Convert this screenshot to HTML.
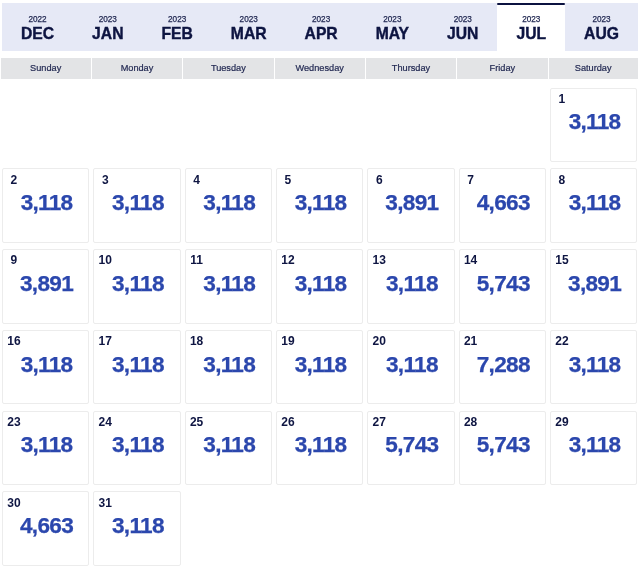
<!DOCTYPE html><html><head><meta charset="utf-8"><title>Calendar</title><style>
*{margin:0;padding:0;box-sizing:border-box}
html,body{width:640px;height:566px;overflow:hidden;background:#fff}
body{position:relative;font-family:"Liberation Sans",Arial,Helvetica,sans-serif;color:#0e1542}
.tabs{position:absolute;left:2px;top:3px;width:636px;height:48px;background:#e6e9f6;display:flex}
.tab{position:relative;flex:1 1 auto;height:48px;text-align:center;padding-top:22.9px}
.tab.on{background:#fff}
.tab.on:before{content:"";position:absolute;left:0;right:0;top:0;height:2px;background:#0b1240;border-radius:1px}
.yr{position:absolute;left:0;right:0;top:12.5px;font-size:8.2px;line-height:1;color:#1f2650;-webkit-text-stroke:0.25px #1f2650}
.mo{display:block;font-size:15.7px;line-height:1;font-weight:bold;color:#0d1441;-webkit-text-stroke:0.4px #0d1441}
.hd{position:absolute;top:58px;height:21px;background:#e3e4e6;font-size:9.2px;line-height:21px;text-align:center;color:#1f2650;-webkit-text-stroke:0.2px #1f2650}
.c{position:absolute;width:87.2px;height:74.4px;border:1px solid #ececec;border-radius:2px;background:#fff}
.d{position:absolute;left:0;width:21.6px;text-align:center;top:4.2px;font-size:12px;line-height:1;font-weight:bold;color:#0e1542}
.v{position:absolute;left:1.7px;right:0;top:22.8px;text-align:center;font-size:22.6px;letter-spacing:-0.7px;line-height:1;font-weight:bold;color:#2b47ad;-webkit-text-stroke:0.25px #2b47ad;transform:scaleY(1.0);transform-origin:0 0}
</style></head><body>
<div class="tabs">
<div class="tab"><span class="yr">2022</span><span class="mo">DEC</span></div>
<div class="tab"><span class="yr">2023</span><span class="mo">JAN</span></div>
<div class="tab"><span class="yr">2023</span><span class="mo">FEB</span></div>
<div class="tab"><span class="yr">2023</span><span class="mo">MAR</span></div>
<div class="tab"><span class="yr">2023</span><span class="mo">APR</span></div>
<div class="tab"><span class="yr">2023</span><span class="mo">MAY</span></div>
<div class="tab"><span class="yr">2023</span><span class="mo">JUN</span></div>
<div class="tab on"><span class="yr">2023</span><span class="mo">JUL</span></div>
<div class="tab"><span class="yr">2023</span><span class="mo">AUG</span></div>
</div>
<div class="hd" style="left:0.50px;width:90.34px">Sunday</div>
<div class="hd" style="left:91.84px;width:90.34px">Monday</div>
<div class="hd" style="left:183.18px;width:90.34px">Tuesday</div>
<div class="hd" style="left:274.52px;width:90.34px">Wednesday</div>
<div class="hd" style="left:365.86px;width:90.34px">Thursday</div>
<div class="hd" style="left:457.20px;width:90.34px">Friday</div>
<div class="hd" style="left:548.54px;width:89.34px">Saturday</div>
<div class="c" style="left:550.14px;top:87.70px"><div class="d">1</div><div class="v">3,118</div></div>
<div class="c" style="left:2.10px;top:168.44px"><div class="d">2</div><div class="v">3,118</div></div>
<div class="c" style="left:93.44px;top:168.44px"><div class="d">3</div><div class="v">3,118</div></div>
<div class="c" style="left:184.78px;top:168.44px"><div class="d">4</div><div class="v">3,118</div></div>
<div class="c" style="left:276.12px;top:168.44px"><div class="d">5</div><div class="v">3,118</div></div>
<div class="c" style="left:367.46px;top:168.44px"><div class="d">6</div><div class="v">3,891</div></div>
<div class="c" style="left:458.80px;top:168.44px"><div class="d">7</div><div class="v">4,663</div></div>
<div class="c" style="left:550.14px;top:168.44px"><div class="d">8</div><div class="v">3,118</div></div>
<div class="c" style="left:2.10px;top:249.18px"><div class="d">9</div><div class="v">3,891</div></div>
<div class="c" style="left:93.44px;top:249.18px"><div class="d">10</div><div class="v">3,118</div></div>
<div class="c" style="left:184.78px;top:249.18px"><div class="d">11</div><div class="v">3,118</div></div>
<div class="c" style="left:276.12px;top:249.18px"><div class="d">12</div><div class="v">3,118</div></div>
<div class="c" style="left:367.46px;top:249.18px"><div class="d">13</div><div class="v">3,118</div></div>
<div class="c" style="left:458.80px;top:249.18px"><div class="d">14</div><div class="v">5,743</div></div>
<div class="c" style="left:550.14px;top:249.18px"><div class="d">15</div><div class="v">3,891</div></div>
<div class="c" style="left:2.10px;top:329.92px"><div class="d">16</div><div class="v">3,118</div></div>
<div class="c" style="left:93.44px;top:329.92px"><div class="d">17</div><div class="v">3,118</div></div>
<div class="c" style="left:184.78px;top:329.92px"><div class="d">18</div><div class="v">3,118</div></div>
<div class="c" style="left:276.12px;top:329.92px"><div class="d">19</div><div class="v">3,118</div></div>
<div class="c" style="left:367.46px;top:329.92px"><div class="d">20</div><div class="v">3,118</div></div>
<div class="c" style="left:458.80px;top:329.92px"><div class="d">21</div><div class="v">7,288</div></div>
<div class="c" style="left:550.14px;top:329.92px"><div class="d">22</div><div class="v">3,118</div></div>
<div class="c" style="left:2.10px;top:410.66px"><div class="d">23</div><div class="v">3,118</div></div>
<div class="c" style="left:93.44px;top:410.66px"><div class="d">24</div><div class="v">3,118</div></div>
<div class="c" style="left:184.78px;top:410.66px"><div class="d">25</div><div class="v">3,118</div></div>
<div class="c" style="left:276.12px;top:410.66px"><div class="d">26</div><div class="v">3,118</div></div>
<div class="c" style="left:367.46px;top:410.66px"><div class="d">27</div><div class="v">5,743</div></div>
<div class="c" style="left:458.80px;top:410.66px"><div class="d">28</div><div class="v">5,743</div></div>
<div class="c" style="left:550.14px;top:410.66px"><div class="d">29</div><div class="v">3,118</div></div>
<div class="c" style="left:2.10px;top:491.40px"><div class="d">30</div><div class="v">4,663</div></div>
<div class="c" style="left:93.44px;top:491.40px"><div class="d">31</div><div class="v">3,118</div></div>
</body></html>
